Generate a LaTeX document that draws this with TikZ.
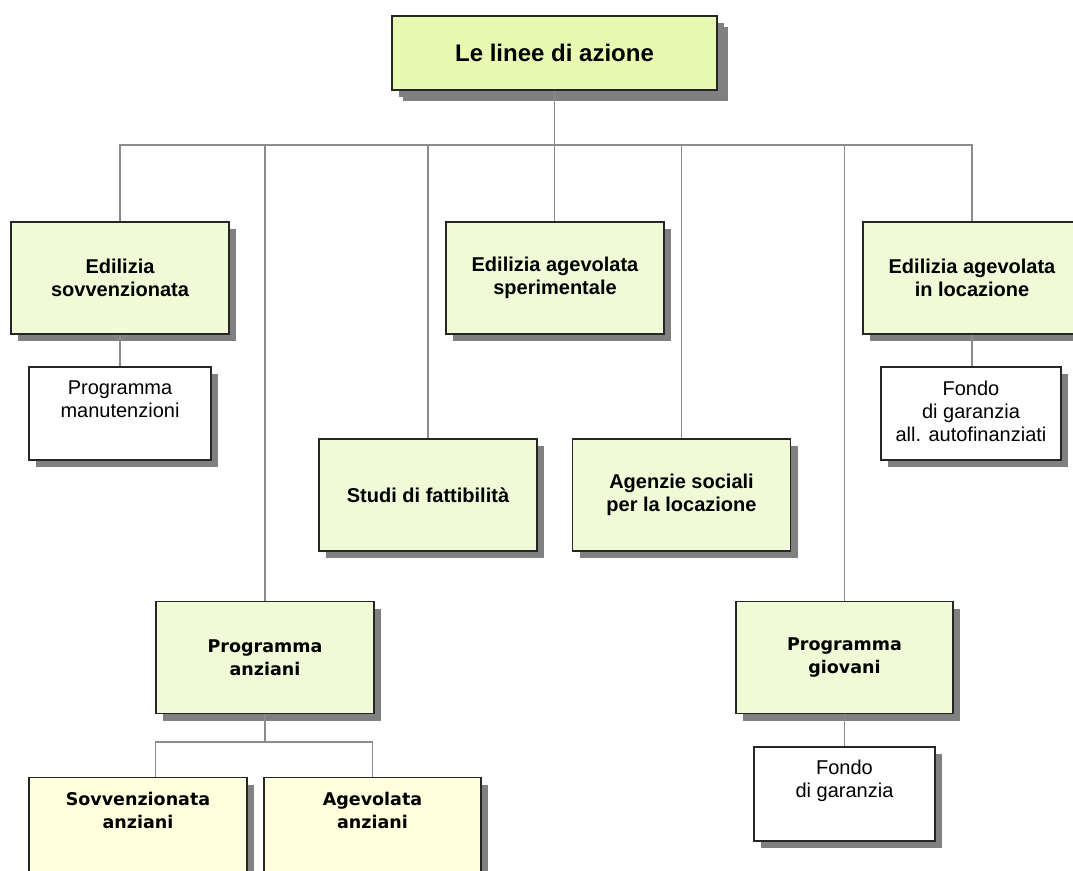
\documentclass[tikz,border=0pt]{standalone}
\usepackage{fontspec}
\setmainfont{Liberation Sans}
\newfontfamily\verd{DejaVu Sans}
\usetikzlibrary{shadows}
\definecolor{titlefill}{RGB}{232,250,178}
\definecolor{boxfill}{RGB}{240,250,214}
\definecolor{subfill}{RGB}{255,255,222}
\definecolor{shade}{RGB}{128,128,128}
\definecolor{wirecol}{RGB}{140,140,140}
\tikzset{shadowed/.style={drop shadow={shadow xshift=7pt,shadow yshift=-7pt,fill=shade,opacity=1}},
box/.style={rectangle,draw=black!85,line width=1.1pt,fill=boxfill,shadowed,minimum width=218pt,minimum height=112pt,inner sep=0pt,align=center,font=\fontsize{20}{23}\selectfont\bfseries},
headbox/.style={box,fill=titlefill,minimum width=325pt,minimum height=74pt,font=\fontsize{24}{28}\selectfont\bfseries,drop shadow={shadow xshift=11pt,shadow yshift=-11pt,fill=shade,opacity=1}},
vbox/.style={box,font=\verd\fontsize{17.5}{23}\selectfont\bfseries},
subbox/.style={box,fill=subfill,minimum width=217pt},
note/.style={rectangle,draw=black!85,line width=1.1pt,fill=white,shadowed,minimum width=182pt,minimum height=93pt,inner sep=0pt},
toptext/.style={anchor=north,yshift=-14pt,inner sep=0pt,align=center,font=\fontsize{20}{23}\selectfont},
subtext/.style={anchor=north,yshift=-15pt,inner sep=0pt,align=center,font=\verd\fontsize{17.5}{23}\selectfont\bfseries},
wire/.style={draw=wirecol,line width=1.4pt}}
\begin{document}
\begin{tikzpicture}[x=1pt,y=-1pt]
\useasboundingbox (0,0) rectangle (1073,870);
\clip (0,0) rectangle (1073,870);
% boxes
\node[headbox] (top) at (554.5,53) {Le linee di azione};
\node[box] (esov) at (120,278) {Edilizia\\sovvenzionata};
\node[box] (eas) at (555,278) {Edilizia agevolata\\sperimentale};
\node[box] (eal) at (972,278) {Edilizia agevolata\\in locazione};
\node[note,label={[toptext]north:Programma\\manutenzioni}] (pman) at (120,413.5) {};
\node[note,minimum width=180pt,label={[toptext]north:Fondo\\di garanzia\\all. autofinanziati}] (fga) at (971,413.5) {};
\node[box] (studi) at (428,495) {Studi di fattibilità};
\node[box] (agenzie) at (681.5,495) {Agenzie sociali\\per la locazione};
\node[vbox] (panz) at (265,657.5) {Programma\\anziani};
\node[vbox,minimum width=217pt] (pgio) at (844.5,657.5) {Programma\\giovani};
\node[note,minimum width=181pt,minimum height=94pt,label={[toptext,yshift=1pt]north:Fondo\\di garanzia}] (fg) at (844.5,794) {};
\node[subbox,minimum width=218pt,label={[subtext]north:Sovvenzionata\\anziani}] (sanz) at (138,833.5) {};
\node[subbox,label={[subtext]north:Agevolata\\anziani}] (aanz) at (372.5,833.5) {};
% connectors
\coordinate (bus) at (554.5,145);
\draw[wire] (top.south) -- (top.south |- eas.north);
\draw[wire] (esov.north) |- (bus) -| (eal.north);
\foreach \n in {panz,studi,agenzie,pgio}
  \draw[wire] (\n.north |- bus) -- (\n.north);
\draw[wire] (esov) -- (pman);
\draw[wire] (eal.south) -- (eal.south |- fga.north);
\draw[wire] (pgio) -- (fg);
\coordinate (fork) at (265,742);
\draw[wire] (panz.south) -- (fork);
\draw[wire] (fork) -| (aanz.north);
\draw[wire] (fork) -| ([xshift=127pt]sanz.north west);
\end{tikzpicture}
\end{document}
